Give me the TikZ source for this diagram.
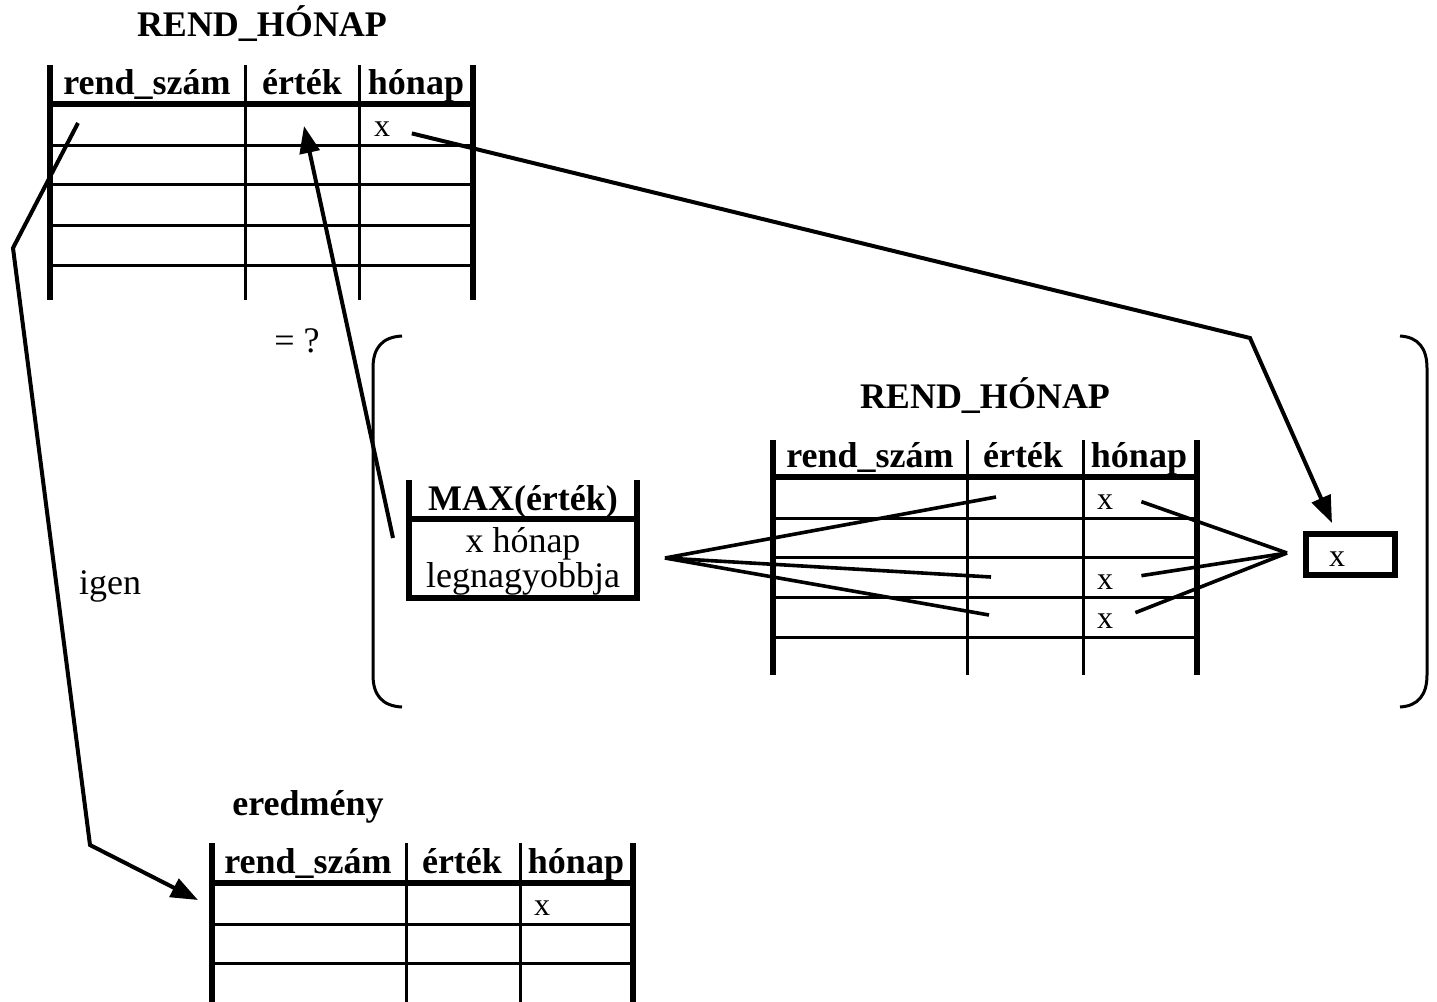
\documentclass[tikz,border=0pt]{standalone}
\usepackage{fontspec}
\setmainfont{Liberation Serif}
\usetikzlibrary{arrows.meta,positioning,calc}

\begin{document}
\begin{tikzpicture}[x=0.5pt,y=-0.5pt,
    keret/.style={line width=2.7pt,black},
    vonal/.style={line width=1.5pt,black},
    szal/.style={line width=1.8pt,black},
    nyil/.style={-{Triangle[length=13.5pt,width=10pt]},line width=2pt,black},
    cim/.style={font=\fontsize{18}{20}\selectfont\bfseries,inner sep=0pt,anchor=base},
    fej/.style={font=\fontsize{18}{20}\selectfont\bfseries,inner sep=0pt,anchor=base},
    cella/.style={font=\fontsize{16}{18}\selectfont,inner sep=1pt,anchor=base},
    szoveg/.style={font=\fontsize{18}{20}\selectfont,inner sep=0pt,anchor=base}
  ]
  \useasboundingbox (0,0) rectangle (1437,1002);

  % felso tabla
  \node[cim] (t1cim) at (262,36) {REND\_HÓNAP};
  \draw[vonal] (245,65) -- (245,300) (359,65) -- (359,300);
  \foreach \y in {145,184,225,265}
    \draw[vonal] (50,\y) -- (473,\y);
  \draw[keret] (50,65) -- (50,300) (473,65) -- (473,300) (50,104) -- (473,104);
  \node[fej] (t1a) at (147,94) {rend\_szám};
  \node[fej] (t1b) at (302,94) {érték};
  \node[fej] (t1c) at (416,94) {hónap};
  \node[cella] (t1x) at (382,136) {x};

  % zarojel
  \draw[vonal] (402,336) .. controls (382,337) and (373,348) .. (373,368)
    -- (373,675) .. controls (373,695) and (382,706) .. (402,707);
  \draw[vonal] (1400,336) .. controls (1418,337) and (1427,348) .. (1427,368)
    -- (1427,675) .. controls (1427,695) and (1418,706) .. (1400,707);

  % MAX doboz
  \draw[keret] (409,480) -- (409,598) -- (637,598) -- (637,480) (409,519) -- (637,519);
  \node[fej] (max) at (523,510) {MAX(érték)};
  \node[szoveg] (max1) at (523,552) {x hónap};
  \node[szoveg] (max2) at (523,587) {legnagyobbja};

  % kozepso tabla
  \node[cim] (t2cim) at (985,408) {REND\_HÓNAP};
  \draw[vonal] (967,440) -- (967,675) (1083,440) -- (1083,675);
  \foreach \y in {518,557,597,637}
    \draw[vonal] (773,\y) -- (1197,\y);
  \draw[keret] (773,440) -- (773,675) (1197,440) -- (1197,675) (773,477) -- (1197,477);
  \node[fej] (t2a) at (870,467) {rend\_szám};
  \node[fej] (t2b) at (1023,467) {érték};
  \node[fej] (t2c) at (1139,467) {hónap};
  \node[cella] (t2x1) at (1105,509) {x};
  \node[cella] (t2x2) at (1105,589) {x};
  \node[cella] (t2x3) at (1105,628) {x};

  % kis doboz
  \node[draw,line width=2.7pt,minimum width=44.5pt,minimum height=20.5pt,
        inner sep=0pt] (kis) at (1350.5,554.5) {};
  \node[cella] (kisx) at (1337,566) {x};

  % eredmeny tabla
  \node[cim] (t3cim) at (308,815) {eredmény};
  \draw[vonal] (406,843) -- (406,1002) (520,843) -- (520,1002);
  \foreach \y in {924,963}
    \draw[vonal] (212,\y) -- (633,\y);
  \draw[keret] (212,843) -- (212,1002) (633,843) -- (633,1002) (212,883) -- (633,883);
  \node[fej] (t3a) at (308,873) {rend\_szám};
  \node[fej] (t3b) at (462,873) {érték};
  \node[fej] (t3c) at (576,873) {hónap};
  \node[cella] (t3x) at (542,915) {x};

  \node[szoveg] (igen) at (110,594) {igen};
  \node[szoveg] (kerdes) at (297,352) {= ?};

  % nyilak
  \coordinate (a1) at (1250,338);
  \coordinate (a2) at (1332,523);
  \draw[nyil,shorten <=10pt] (t1x.east) -- (a1) -- (a2);

  \coordinate (i0) at (78,123);
  \coordinate (i1) at (13,248);
  \coordinate (i2) at (90,845);
  \coordinate (i3) at (198,900);
  \draw[nyil] (i0) -- (i1) -- (i2) -- (i3);

  \coordinate (e0) at (393,538);
  \coordinate (e1) at (304,126);
  \draw[nyil] (e0) -- (e1);

  % legyezo
  \coordinate (f) at (665,558);
  \foreach \p in {(996,497),(991,577),(989,615)}
    \draw[szal] (f) -- \p;
  \coordinate (g) at (1287,553);
  \draw[szal] (g) -- ([xshift=13pt,yshift=0pt]t2x1.east);
  \draw[szal] (g) -- ([xshift=13pt,yshift=3pt]t2x2.east);
  \draw[szal] (g) -- ([xshift=10pt,yshift=4pt]t2x3.east);
\end{tikzpicture}
\end{document}
